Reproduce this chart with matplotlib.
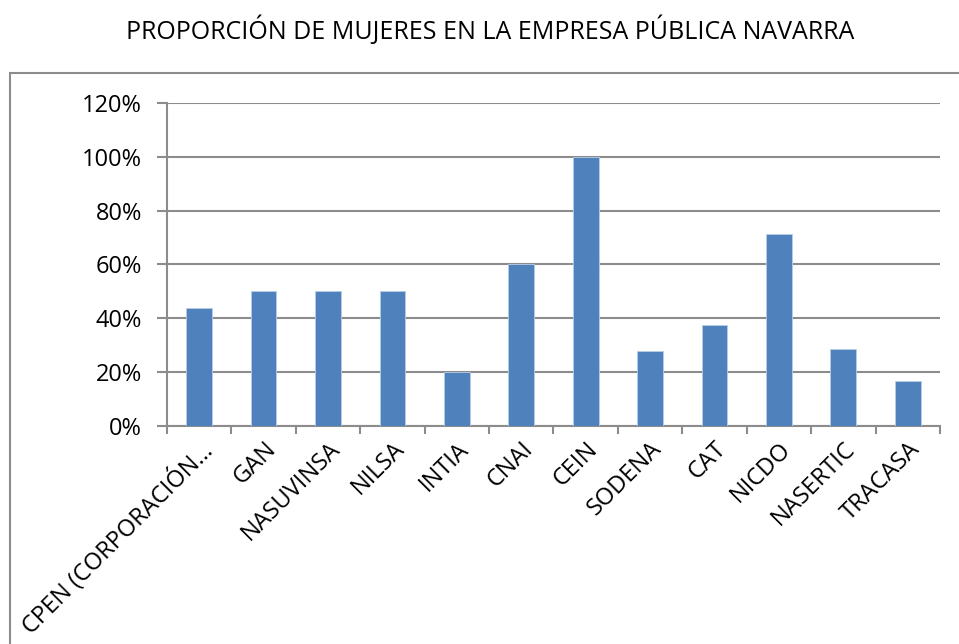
import numpy as np
import matplotlib.pyplot as plt
from matplotlib.patches import Rectangle
from matplotlib.ticker import PercentFormatter

empresas = ['CPEN (CORPORACIÓN…', 'GAN', 'NASUVINSA', 'NILSA', 'INTIA', 'CNAI',
            'CEIN', 'SODENA', 'CAT', 'NICDO', 'NASERTIC', 'TRACASA']
proporcion = [44.0, 50.0, 50.0, 50.0, 20.0, 60.0, 100.0, 27.8, 37.5, 71.4, 28.6, 16.7]
y_ticks = [0, 20, 40, 60, 80, 100, 120]

plt.rcParams['font.family'] = ['Open Sans', 'DejaVu Sans']

fig = plt.figure(figsize=(9.59, 6.44), dpi=100)
ax = fig.add_axes([0.1741, 0.3385, 0.806, 0.5016])

# outer chart frame
fig.patches.append(Rectangle((10 / 959, -0.05), 1.1, (644 - 73) / 644 + 0.05,
                             transform=fig.transFigure, fill=False,
                             edgecolor='#8c8c8c', linewidth=1.5))

x = np.arange(len(empresas))
ax.bar(x, proporcion, width=0.4, color='#4f81bd', edgecolor='#b9cde5',
       linewidth=0.6, zorder=3)

ax.set_xlim(-0.5, len(empresas) - 0.5)
ax.set_ylim(0, 120)
ax.set_yticks(y_ticks)
ax.yaxis.set_major_formatter(PercentFormatter(decimals=0))
ax.grid(axis='y', color='#8c8c8c', linewidth=1.5, zorder=0)

ax.set_xticks(x)
ax.set_xticklabels(empresas, rotation=45, ha='right', rotation_mode='anchor')
ax.set_xticks(np.arange(len(empresas) + 1) - 0.5, minor=True)
ax.tick_params(axis='x', which='major', length=0, pad=8, labelsize=17)
ax.tick_params(axis='x', which='minor', length=6, width=1.5, color='#8c8c8c')
ax.tick_params(axis='y', length=7, width=1.5, color='#8c8c8c', labelsize=17, pad=11)

for side in ['top', 'right']:
    ax.spines[side].set_visible(False)
for side in ['left', 'bottom']:
    ax.spines[side].set_color('#8c8c8c')
    ax.spines[side].set_linewidth(1.5)

fig.text(0.511, 0.953, 'PROPORCIÓN DE MUJERES EN LA EMPRESA PÚBLICA NAVARRA',
         ha='center', va='center', fontsize=18)

plt.savefig('out.png', dpi=100)
